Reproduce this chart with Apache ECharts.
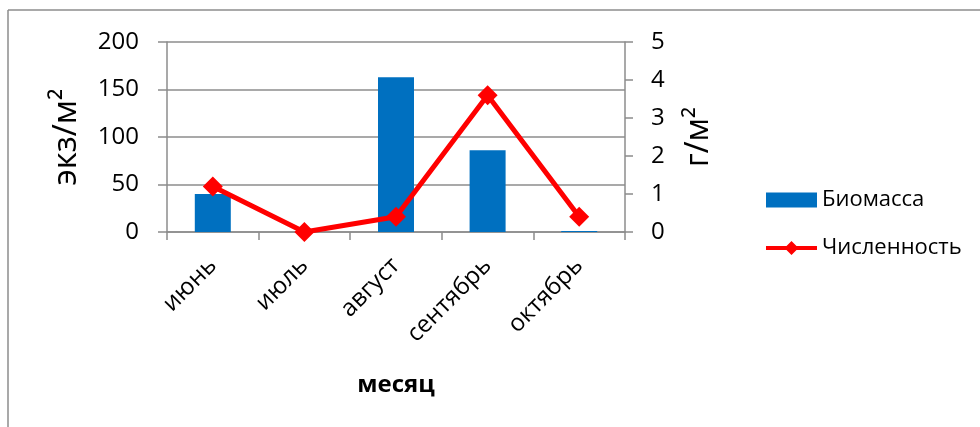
<!DOCTYPE html>
<html>
<head>
<meta charset="utf-8">
<script src="https://cdn.jsdelivr.net/npm/echarts@6/dist/echarts.min.js"></script>
<style>
  html, body { margin: 0; padding: 0; background: #fff; }
  #chart { width: 980px; height: 427px; }
</style>
</head>
<body>
<div id="chart"></div>
<script>
// Monthly sampling data
const months = ['июнь', 'июль', 'август', 'сентябрь', 'октябрь'];
const biomass = [40, 0, 163, 86, 1];          // left axis, экз/м²
const abundance = [1.2, 0, 0.4, 3.6, 0.4];    // right axis, г/м²
const leftTicks = { min: 0, max: 200, interval: 50 };
const rightTicks = { min: 0, max: 5, interval: 1 };

const FONT = '"Open Sans", "Noto Sans", sans-serif';
const AXIS_GRAY = '#8c8c8c';

// Legend glyph for the line series: a thick stroke with a diamond marker
const LINE_ICON = 'path://M0,5 L20.5,5 L25.5,0 L30.5,5 L51,5 L51,9 L30.5,9 L25.5,14 L20.5,9 L0,9 Z';

const chart = echarts.init(document.getElementById('chart'), null, { renderer: 'canvas' });

chart.setOption({
  animation: false,
  backgroundColor: '#ffffff',
  textStyle: { fontFamily: FONT, color: '#000' },
  graphic: [
    { type: 'line', shape: { x1: 8, y1: 10, x2: 8, y2: 427 }, style: { stroke: AXIS_GRAY, lineWidth: 1.5 } },
    { type: 'line', shape: { x1: 8, y1: 10, x2: 980, y2: 10 }, style: { stroke: AXIS_GRAY, lineWidth: 1.5 } }
  ],
  grid: { left: 167, right: 355, top: 42, bottom: 195 },
  legend: {
    orient: 'vertical',
    left: 766,
    top: 189,
    padding: 0,
    itemWidth: 51,
    itemHeight: 15,
    itemGap: 26,
    textStyle: { fontFamily: FONT, fontSize: 22, color: '#000', padding: [0, 0, 0, 0] },
    data: [
      { name: 'Биомасса', icon: 'rect', itemStyle: { color: '#0070C0' } },
      { name: 'Численность', icon: LINE_ICON, itemStyle: { color: '#FF0000' } }
    ]
  },
  xAxis: {
    type: 'category',
    data: months,
    boundaryGap: true,
    name: 'месяц',
    nameLocation: 'middle',
    nameGap: 141,
    nameTextStyle: { fontFamily: FONT, fontSize: 24, fontWeight: 'bold', color: '#000' },
    axisLine: { show: true, lineStyle: { color: AXIS_GRAY, width: 1.5 } },
    axisTick: { show: true, length: 8, alignWithLabel: false, lineStyle: { color: AXIS_GRAY, width: 1.5 } },
    axisLabel: { rotate: 45, fontSize: 24, color: '#000', fontFamily: FONT, margin: 30 }
  },
  yAxis: [
    {
      type: 'value',
      position: 'left',
      min: leftTicks.min, max: leftTicks.max, interval: leftTicks.interval,
      name: 'экз/м²',
      nameLocation: 'middle',
      nameGap: 84,
      nameRotate: 90,
      nameTextStyle: { fontFamily: FONT, fontSize: 33, color: '#000' },
      axisLine: { show: true, lineStyle: { color: AXIS_GRAY, width: 1.5 } },
      axisTick: { show: true, length: 9, lineStyle: { color: AXIS_GRAY, width: 1.5 } },
      axisLabel: { fontSize: 24, color: '#000', fontFamily: FONT, margin: 28 },
      splitLine: { show: true, lineStyle: { color: AXIS_GRAY, width: 1.5 } }
    },
    {
      type: 'value',
      position: 'right',
      min: rightTicks.min, max: rightTicks.max, interval: rightTicks.interval,
      name: 'г/м²',
      nameLocation: 'middle',
      nameGap: 58,
      nameRotate: 90,
      nameTextStyle: { fontFamily: FONT, fontSize: 32, color: '#000' },
      axisLine: { show: true, lineStyle: { color: AXIS_GRAY, width: 1.5 } },
      axisTick: { show: true, length: 8, lineStyle: { color: AXIS_GRAY, width: 1.5 } },
      axisLabel: { fontSize: 24, color: '#000', fontFamily: FONT, margin: 26 },
      splitLine: { show: false }
    }
  ],
  series: [
    {
      name: 'Биомасса',
      type: 'bar',
      yAxisIndex: 0,
      data: biomass,
      barWidth: 36,
      itemStyle: { color: '#0070C0' }
    },
    {
      name: 'Численность',
      type: 'line',
      yAxisIndex: 1,
      data: abundance,
      symbol: 'diamond',
      symbolSize: 20,
      lineStyle: { color: '#FF0000', width: 5 },
      itemStyle: { color: '#FF0000' },
      z: 5
    }
  ]
});
</script>
</body>
</html>
